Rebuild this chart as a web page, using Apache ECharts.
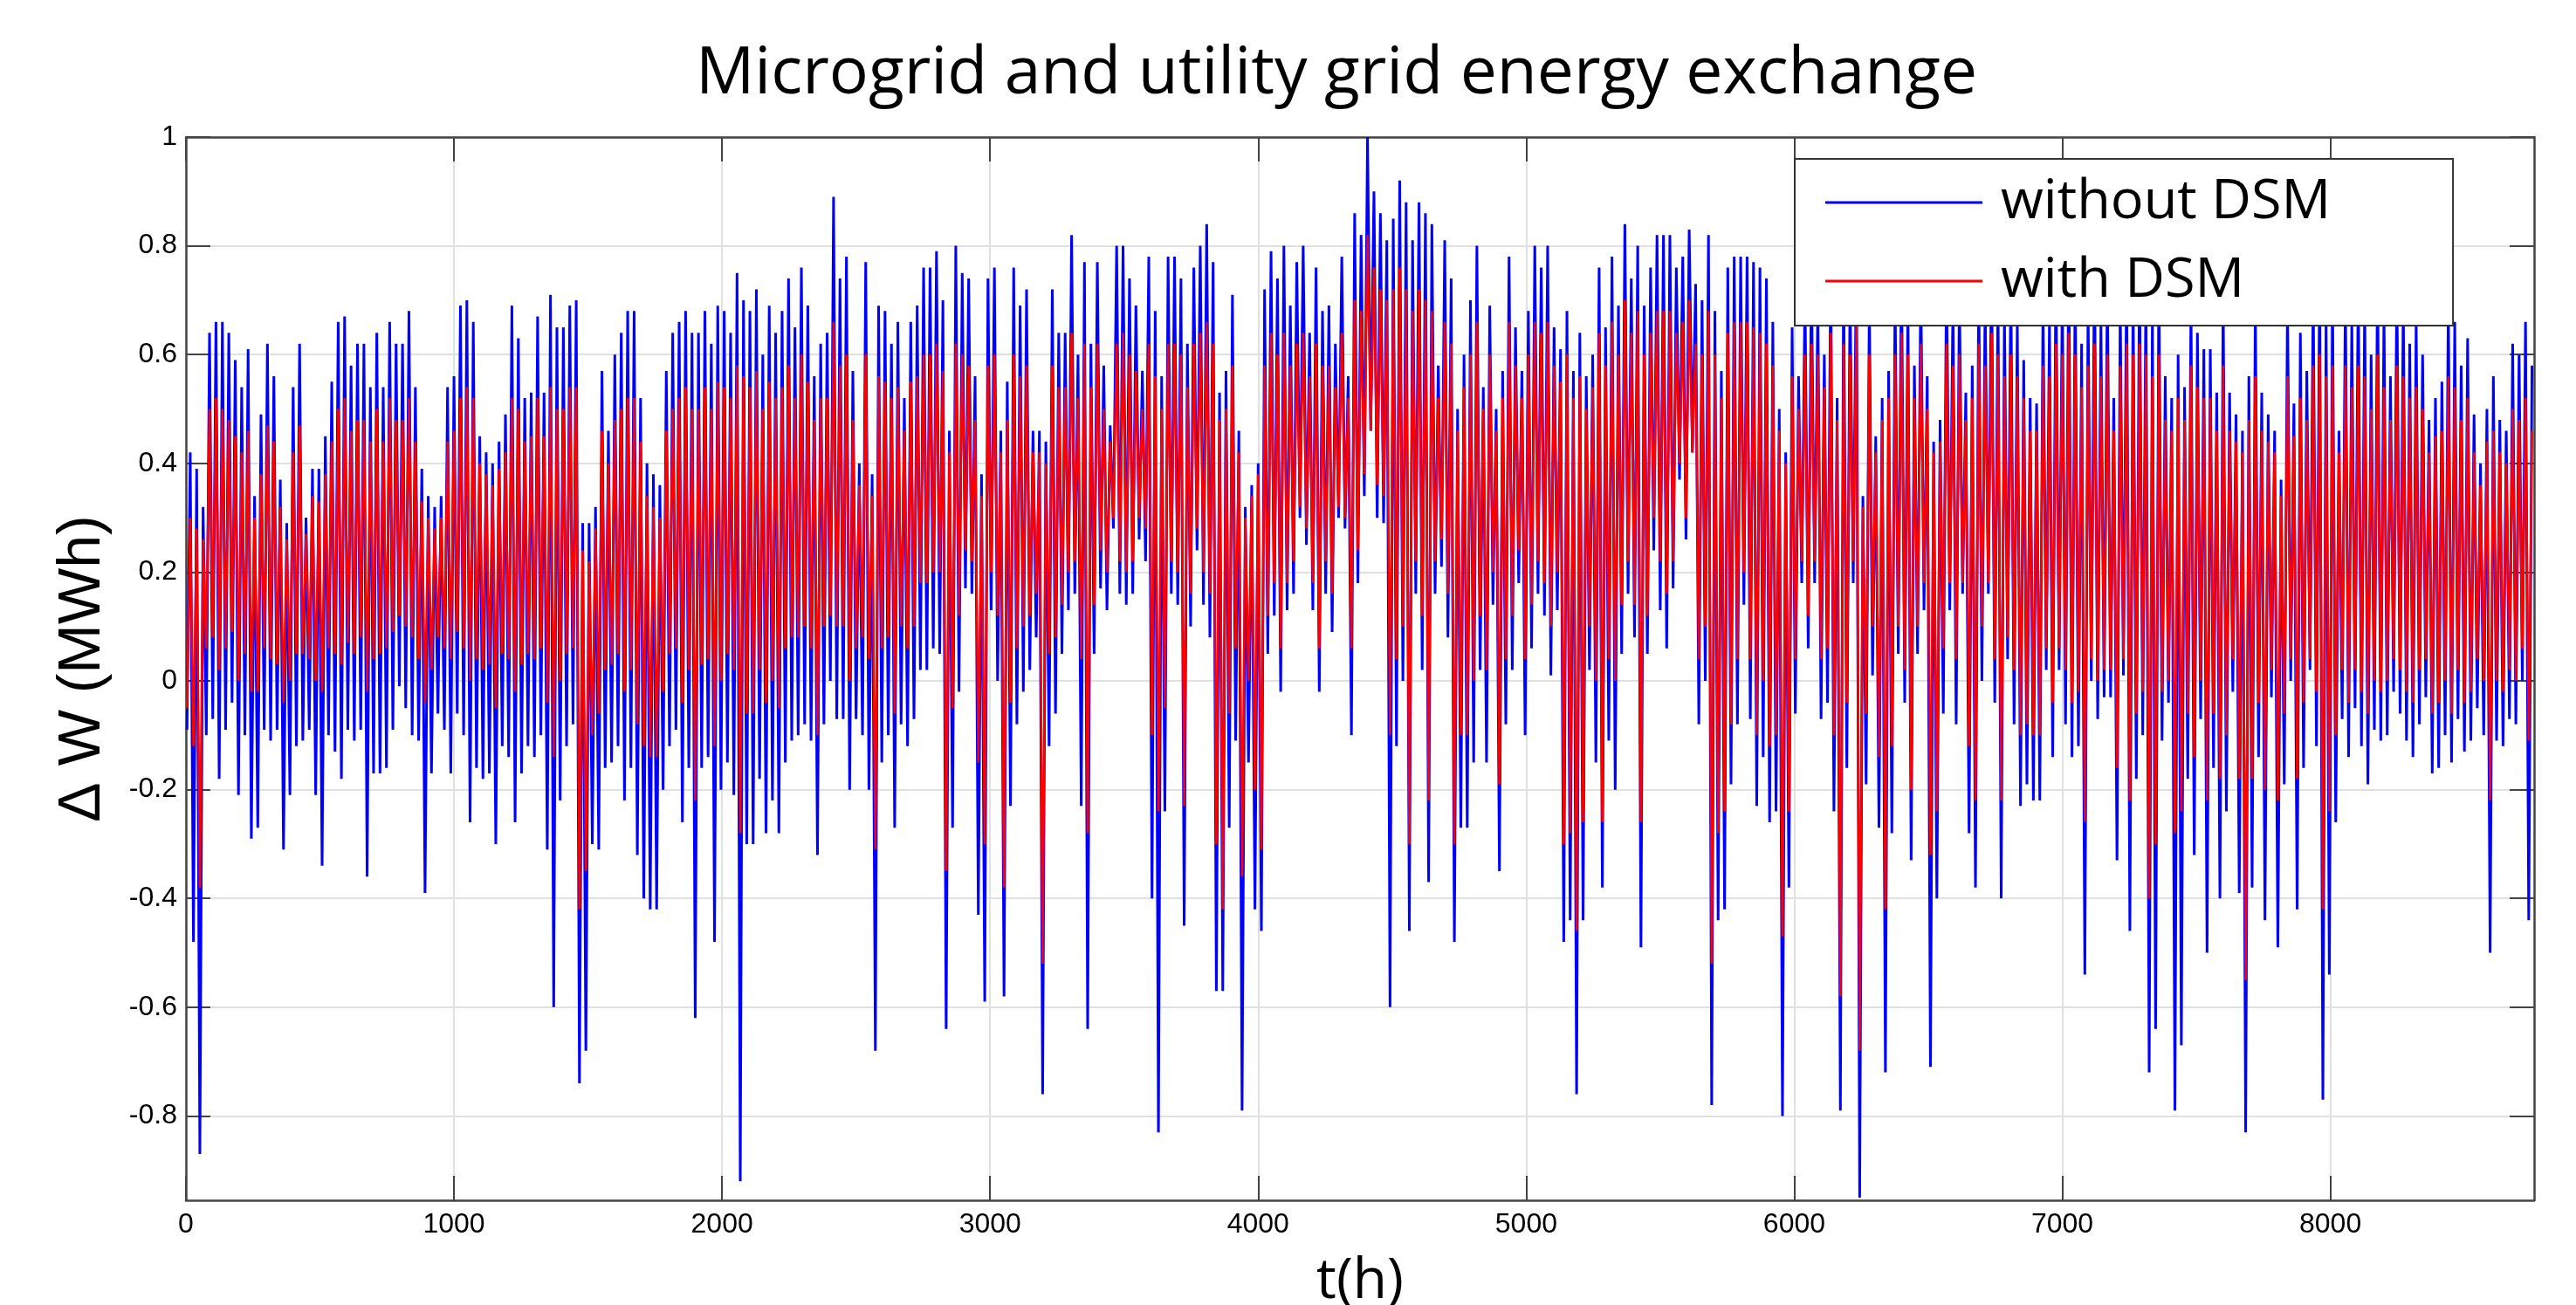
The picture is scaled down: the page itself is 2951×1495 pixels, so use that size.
<!DOCTYPE html>
<html>
<head>
<meta charset="utf-8">
<script src="https://cdn.jsdelivr.net/npm/echarts@6/dist/echarts.min.js"></script>
<style>
  html, body { margin: 0; padding: 0; background: #fff; }
  #app { width: 2951px; height: 1495px; }
</style>
</head>
<body>
<div id="app"></div>
<script>
// one value per day (365 days): daily peak and daily trough
const blueHigh = [
  0.42,0.39,0.32,0.64,0.66,0.66,0.64,0.59,0.54,0.61,
  0.34,0.49,0.62,0.56,0.37,0.29,0.54,0.62,0.30,0.39,
  0.39,0.45,0.55,0.66,0.67,0.58,0.62,0.62,0.54,0.64,
  0.54,0.66,0.62,0.62,0.68,0.54,0.39,0.34,0.32,0.34,
  0.54,0.56,0.69,0.70,0.66,0.45,0.42,0.40,0.44,0.49,
  0.69,0.63,0.52,0.53,0.67,0.53,0.71,0.65,0.65,0.69,
  0.70,0.29,0.29,0.32,0.57,0.46,0.60,0.64,0.68,0.68,
  0.52,0.40,0.38,0.36,0.57,0.64,0.66,0.68,0.64,0.64,
  0.68,0.62,0.69,0.68,0.64,0.75,0.70,0.68,0.72,0.60,
  0.69,0.64,0.68,0.74,0.65,0.76,0.69,0.56,0.62,0.64,
  0.89,0.74,0.78,0.57,0.40,0.77,0.38,0.69,0.68,0.62,
  0.66,0.52,0.66,0.69,0.76,0.76,0.79,0.70,0.46,0.80,
  0.75,0.74,0.56,0.38,0.74,0.76,0.46,0.55,0.76,0.69,
  0.72,0.46,0.46,0.44,0.72,0.64,0.64,0.82,0.60,0.77,
  0.62,0.77,0.58,0.47,0.80,0.80,0.74,0.69,0.57,0.78,
  0.68,0.56,0.78,0.78,0.74,0.62,0.76,0.80,0.84,0.77,
  0.53,0.57,0.71,0.46,0.32,0.36,0.40,0.72,0.79,0.74,
  0.80,0.69,0.77,0.80,0.64,0.76,0.68,0.69,0.62,0.78,
  0.56,0.86,0.82,1.00,0.90,0.86,0.81,0.85,0.92,0.88,
  0.81,0.88,0.86,0.84,0.58,0.81,0.74,0.50,0.60,0.70,
  0.80,0.54,0.69,0.50,0.57,0.78,0.65,0.57,0.68,0.80,
  0.76,0.80,0.65,0.61,0.68,0.57,0.64,0.56,0.60,0.76,
  0.65,0.78,0.69,0.84,0.74,0.80,0.69,0.76,0.82,0.82,
  0.82,0.76,0.78,0.83,0.73,0.70,0.82,0.68,0.57,0.76,
  0.78,0.78,0.78,0.77,0.76,0.74,0.66,0.50,0.42,0.65,
  0.56,0.72,0.75,0.70,0.60,0.78,0.52,0.76,0.72,0.80,
  0.34,0.70,0.45,0.52,0.57,0.72,0.78,0.70,0.58,0.74,
  0.56,0.44,0.48,0.76,0.70,0.72,0.53,0.58,0.74,0.70,
  0.78,0.72,0.68,0.74,0.66,0.59,0.52,0.51,0.70,0.66,
  0.76,0.72,0.80,0.74,0.62,0.70,0.78,0.66,0.74,0.52,
  0.70,0.76,0.72,0.78,0.74,0.68,0.76,0.56,0.52,0.60,
  0.54,0.70,0.64,0.61,0.61,0.53,0.72,0.53,0.49,0.46,
  0.56,0.70,0.53,0.49,0.46,0.37,0.70,0.51,0.64,0.57,
  0.72,0.76,0.68,0.72,0.46,0.72,0.66,0.74,0.70,0.60,
  0.76,0.68,0.56,0.74,0.70,0.62,0.66,0.60,0.48,0.52,
  0.55,0.70,0.66,0.58,0.63,0.49,0.40,0.50,0.56,0.48,
  0.46,0.62,0.60,0.66,0.58
];
const blueLow = [
  -0.09,-0.48,-0.87,-0.10,-0.07,-0.18,-0.09,-0.04,-0.21,-0.10,
  -0.29,-0.27,-0.09,-0.11,-0.09,-0.31,-0.21,-0.12,-0.11,-0.09,
  -0.21,-0.34,-0.10,-0.13,-0.18,-0.09,-0.11,-0.09,-0.36,-0.17,
  -0.17,-0.16,-0.09,-0.01,-0.05,-0.10,-0.11,-0.39,-0.17,-0.06,
  -0.09,-0.17,-0.06,-0.10,-0.26,-0.16,-0.18,-0.17,-0.30,-0.12,
  -0.14,-0.26,-0.17,-0.12,-0.14,-0.10,-0.31,-0.60,-0.22,-0.12,
  -0.08,-0.74,-0.68,-0.30,-0.31,-0.16,-0.15,-0.12,-0.22,-0.16,
  -0.32,-0.40,-0.42,-0.42,-0.20,-0.12,-0.09,-0.26,-0.16,-0.62,
  -0.16,-0.14,-0.48,-0.20,-0.15,-0.21,-0.92,-0.30,-0.30,-0.18,
  -0.28,-0.22,-0.28,-0.15,-0.11,-0.10,-0.08,-0.11,-0.32,-0.08,
  0.00,-0.07,-0.07,-0.20,-0.07,-0.10,-0.20,-0.68,-0.15,-0.10,
  -0.27,-0.08,-0.12,-0.07,0.02,0.02,0.06,0.05,-0.64,-0.27,
  -0.02,0.17,0.16,-0.43,-0.59,0.13,0.00,-0.58,-0.23,-0.08,
  -0.02,0.02,0.08,-0.76,-0.12,-0.06,0.05,0.13,0.16,-0.23,
  -0.64,0.05,0.17,0.13,0.28,0.16,0.14,0.16,0.26,0.22,
  -0.40,-0.83,-0.24,0.16,0.14,-0.45,0.10,0.24,0.14,0.08,
  -0.57,-0.57,-0.27,-0.11,-0.79,-0.15,-0.42,-0.46,0.05,0.12,
  -0.02,0.13,0.16,0.30,0.25,0.13,-0.02,0.16,0.09,0.30,
  0.28,-0.10,0.18,0.34,0.46,0.30,0.29,-0.60,-0.12,0.00,
  -0.46,0.16,0.02,-0.37,0.16,0.21,0.08,-0.48,-0.27,-0.27,
  -0.15,0.02,-0.15,0.14,-0.35,-0.08,0.02,0.18,-0.10,0.06,
  0.16,0.12,0.01,0.13,-0.48,-0.44,-0.76,-0.44,0.02,-0.15,
  -0.38,-0.11,-0.20,0.05,0.16,0.08,-0.49,0.05,0.24,0.13,
  0.06,0.17,0.37,0.26,0.42,-0.08,0.00,-0.78,-0.44,-0.42,
  -0.19,-0.08,0.14,-0.07,-0.23,-0.14,-0.26,-0.24,-0.80,-0.38,
  -0.06,0.18,0.06,0.18,-0.07,-0.04,-0.24,-0.79,-0.16,0.18,
  -0.95,-0.19,0.01,-0.27,-0.72,-0.28,0.05,-0.04,-0.33,0.05,
  0.13,-0.71,-0.40,-0.06,0.13,-0.08,0.16,-0.28,-0.38,0.00,
  0.16,-0.04,-0.40,0.04,-0.08,-0.23,-0.19,-0.22,-0.22,0.02,
  -0.14,0.02,-0.08,-0.14,-0.12,-0.54,0.00,-0.07,-0.03,-0.03,
  -0.33,0.01,-0.46,-0.18,-0.10,-0.72,-0.64,-0.11,-0.04,-0.79,
  -0.67,-0.18,-0.32,-0.07,-0.50,-0.16,-0.40,-0.24,-0.02,-0.39,
  -0.83,-0.38,-0.14,-0.44,-0.03,-0.49,-0.19,0.00,-0.42,-0.16,
  0.02,-0.12,-0.77,-0.54,-0.26,-0.07,-0.14,-0.05,-0.12,-0.19,
  -0.09,-0.11,-0.10,-0.02,-0.06,-0.11,-0.14,-0.08,-0.03,-0.17,
  -0.16,-0.10,-0.15,-0.07,-0.13,-0.11,-0.05,-0.10,-0.50,-0.11,
  -0.12,-0.07,-0.08,0.00,-0.44
];
const redHigh = [
  0.30,0.28,0.26,0.50,0.52,0.50,0.48,0.45,0.42,0.46,
  0.30,0.38,0.47,0.44,0.32,0.26,0.42,0.47,0.27,0.34,
  0.33,0.38,0.44,0.50,0.52,0.46,0.48,0.48,0.44,0.50,
  0.44,0.52,0.48,0.48,0.52,0.44,0.33,0.30,0.28,0.30,
  0.44,0.46,0.52,0.54,0.52,0.40,0.38,0.36,0.39,0.42,
  0.52,0.50,0.44,0.45,0.52,0.45,0.54,0.50,0.50,0.54,
  0.54,0.24,0.22,0.28,0.46,0.40,0.48,0.50,0.52,0.52,
  0.44,0.34,0.32,0.30,0.46,0.50,0.52,0.54,0.50,0.50,
  0.54,0.50,0.55,0.54,0.52,0.58,0.56,0.54,0.57,0.50,
  0.55,0.52,0.54,0.58,0.52,0.60,0.55,0.48,0.52,0.52,
  0.66,0.58,0.60,0.48,0.36,0.60,0.34,0.56,0.55,0.52,
  0.54,0.46,0.55,0.56,0.60,0.60,0.62,0.57,0.42,0.62,
  0.60,0.58,0.48,0.34,0.58,0.60,0.42,0.48,0.60,0.56,
  0.58,0.42,0.42,0.40,0.58,0.54,0.54,0.64,0.52,0.62,
  0.54,0.62,0.50,0.44,0.62,0.64,0.60,0.57,0.50,0.62,
  0.56,0.50,0.62,0.62,0.60,0.54,0.62,0.64,0.66,0.62,
  0.48,0.50,0.58,0.42,0.30,0.34,0.38,0.58,0.64,0.60,
  0.64,0.58,0.62,0.64,0.56,0.62,0.58,0.58,0.54,0.64,
  0.52,0.70,0.68,0.82,0.76,0.72,0.70,0.72,0.76,0.72,
  0.68,0.72,0.70,0.68,0.52,0.66,0.62,0.46,0.54,0.60,
  0.66,0.50,0.60,0.46,0.52,0.66,0.58,0.52,0.60,0.66,
  0.64,0.66,0.58,0.55,0.60,0.52,0.56,0.50,0.54,0.64,
  0.58,0.66,0.60,0.70,0.64,0.68,0.60,0.64,0.68,0.68,
  0.68,0.64,0.66,0.70,0.62,0.60,0.68,0.60,0.52,0.64,
  0.66,0.66,0.66,0.65,0.64,0.62,0.58,0.46,0.40,0.56,
  0.50,0.60,0.62,0.60,0.54,0.64,0.48,0.62,0.60,0.66,
  0.32,0.60,0.42,0.48,0.52,0.60,0.64,0.60,0.52,0.62,
  0.50,0.42,0.44,0.62,0.58,0.60,0.48,0.52,0.62,0.58,
  0.64,0.60,0.56,0.60,0.56,0.52,0.46,0.46,0.58,0.56,
  0.62,0.60,0.64,0.60,0.54,0.58,0.62,0.56,0.60,0.46,
  0.58,0.62,0.60,0.62,0.60,0.56,0.60,0.48,0.46,0.52,
  0.48,0.58,0.54,0.52,0.52,0.46,0.58,0.46,0.44,0.42,
  0.48,0.56,0.46,0.44,0.42,0.34,0.56,0.45,0.52,0.48,
  0.58,0.60,0.56,0.58,0.42,0.58,0.54,0.58,0.56,0.50,
  0.60,0.54,0.48,0.58,0.56,0.52,0.54,0.50,0.42,0.45,
  0.46,0.56,0.54,0.48,0.52,0.42,0.36,0.44,0.46,0.42,
  0.40,0.50,0.48,0.52,0.46
];
const redLow = [
  -0.05,-0.12,-0.38,0.06,0.08,0.02,0.06,0.09,0.00,0.05,
  -0.02,-0.02,0.06,0.04,0.03,-0.04,0.00,0.05,0.05,0.04,
  0.00,-0.02,0.06,0.05,0.03,0.07,0.05,0.08,-0.02,0.04,
  0.05,0.06,0.09,0.12,0.10,0.08,0.04,-0.04,0.02,0.08,
  0.06,0.04,0.09,0.06,0.00,0.04,0.02,0.03,-0.05,0.05,
  0.04,-0.02,0.03,0.05,0.04,0.06,-0.04,-0.14,0.00,0.05,
  0.06,-0.42,-0.35,-0.10,-0.06,0.02,0.03,0.05,-0.02,0.02,
  -0.08,-0.12,-0.14,-0.14,-0.02,0.05,0.06,-0.04,0.02,-0.22,
  0.03,0.04,-0.12,0.00,0.05,0.02,-0.28,-0.06,-0.06,0.02,
  -0.04,0.00,-0.05,0.06,0.08,0.08,0.10,0.06,-0.10,0.10,
  0.12,0.10,0.10,0.00,0.06,0.08,0.04,-0.31,0.06,0.08,
  -0.06,0.10,0.06,0.10,0.18,0.18,0.20,0.20,-0.35,-0.05,
  0.12,0.24,0.22,-0.15,-0.30,0.20,0.12,-0.38,-0.04,0.06,
  0.10,0.12,0.16,-0.52,0.05,0.08,0.14,0.20,0.22,0.04,
  -0.28,0.14,0.24,0.20,0.30,0.22,0.20,0.22,0.30,0.28,
  -0.10,-0.24,-0.05,0.22,0.20,-0.23,0.16,0.28,0.20,0.16,
  -0.30,-0.42,-0.06,0.06,-0.36,0.00,-0.20,-0.31,0.12,0.18,
  0.06,0.18,0.22,0.32,0.28,0.18,0.06,0.22,0.16,0.32,
  0.30,0.06,0.24,0.38,0.46,0.36,0.34,-0.10,0.04,0.10,
  -0.30,0.22,0.12,-0.22,0.22,0.26,0.16,-0.30,-0.10,-0.10,
  0.00,0.12,0.02,0.20,-0.19,0.04,0.12,0.24,0.04,0.14,
  0.22,0.18,0.10,0.20,-0.30,-0.28,-0.46,-0.26,0.10,0.00,
  -0.26,0.04,0.00,0.14,0.22,0.14,-0.26,0.12,0.30,0.22,
  0.16,0.22,0.40,0.30,0.42,0.04,0.10,-0.52,-0.28,-0.24,
  -0.08,0.04,0.20,0.04,-0.10,0.00,-0.12,-0.10,-0.47,-0.24,
  0.04,0.22,0.12,0.22,0.04,0.06,-0.10,-0.58,-0.04,0.22,
  -0.68,-0.06,0.10,-0.14,-0.42,-0.12,0.10,0.02,-0.20,0.10,
  0.18,-0.32,-0.24,0.06,0.18,0.04,0.18,-0.12,-0.22,0.10,
  0.18,0.04,-0.22,0.08,0.02,-0.10,-0.08,-0.10,-0.10,0.06,
  -0.04,0.06,0.02,-0.04,-0.02,-0.26,0.04,0.00,0.02,0.02,
  -0.16,0.04,-0.22,-0.06,-0.02,-0.40,-0.30,-0.02,0.00,-0.28,
  -0.24,-0.06,-0.14,0.00,-0.22,-0.06,-0.18,-0.10,0.04,-0.18,
  -0.55,-0.18,-0.04,-0.20,0.02,-0.22,-0.06,0.04,-0.18,-0.04,
  0.04,-0.02,-0.42,-0.24,-0.10,0.02,-0.04,0.02,-0.02,-0.06,
  0.00,-0.02,0.00,0.04,0.02,-0.02,-0.04,0.02,0.04,-0.06,
  -0.04,0.00,-0.06,0.02,-0.04,-0.02,0.04,0.00,-0.22,0.00,
  -0.02,0.02,0.00,0.06,-0.11
];
const xTicks = [0, 1000, 2000, 3000, 4000, 5000, 6000, 7000, 8000];
const yTicks = [-0.8, -0.6, -0.4, -0.2, 0, 0.2, 0.4, 0.6, 0.8, 1];

// each day: trough then peak
function dayPoints(lows, highs) {
  const pts = [];
  for (let d = 0; d < lows.length; d++) {
    pts.push([d * 24 + 4, lows[d]]);
    pts.push([d * 24 + 16, highs[d]]);
  }
  return pts;
}

const axisColor = '#444';
const tickFont = { fontFamily: 'Liberation Sans', fontSize: 32, color: '#000' };
const tickLine = { color: axisColor, width: 2 };

const chart = echarts.init(document.getElementById('app'));
chart.setOption({
  animation: false,
  backgroundColor: '#fff',
  graphic: [{
    type: 'text',
    x: 1531,
    y: 86,
    style: {
      text: 'Microgrid and utility grid energy exchange',
      font: '75px "Open Sans"',
      fill: '#000',
      textAlign: 'center',
      textVerticalAlign: 'middle'
    }
  }],
  grid: { left: 213, right: 48, top: 157, bottom: 120, outerBoundsMode: 'none' },
  legend: {
    left: 2056,
    top: 182,
    orient: 'vertical',
    icon: 'rect',
    itemWidth: 180,
    itemHeight: 3,
    itemGap: 20,
    padding: [15, 140, 16, 35],
    backgroundColor: '#fff',
    borderColor: '#333',
    borderWidth: 2,
    textStyle: { fontFamily: 'Open Sans', fontSize: 63, lineHeight: 70, color: '#000', padding: [0, 0, 0, 16] },
    data: ['without DSM', 'with DSM']
  },
  xAxis: [{
    type: 'value',
    min: 0,
    max: 8760,
    name: 't(h)',
    nameLocation: 'middle',
    nameGap: 62,
    nameTextStyle: { fontFamily: 'Open Sans', fontSize: 64, color: '#000' },
    axisLine: { onZero: false, lineStyle: { color: axisColor, width: 2.5 } },
    axisTick: { inside: true, length: 28, customValues: xTicks, lineStyle: tickLine },
    axisLabel: Object.assign({ customValues: xTicks, margin: 12, formatter: v => String(v) }, tickFont),
    splitLine: { show: true, lineStyle: { color: '#e0e0e0', width: 2 } }
  }, {
    type: 'value',
    position: 'top',
    min: 0,
    max: 8760,
    axisLine: { onZero: false, lineStyle: { color: axisColor, width: 2.5 } },
    axisTick: { inside: true, length: 28, customValues: xTicks, lineStyle: tickLine },
    axisLabel: { show: false },
    splitLine: { show: false }
  }],
  yAxis: [{
    type: 'value',
    min: -0.955,
    max: 1,
    name: '\u0394 W (MWh)',
    nameLocation: 'middle',
    nameGap: 84,
    nameTextStyle: { fontFamily: 'Liberation Sans', fontSize: 68, color: '#000' },
    axisLine: { show: true, onZero: false, lineStyle: { color: axisColor, width: 2.5 } },
    axisTick: { show: true, inside: true, length: 28, customValues: yTicks, lineStyle: tickLine },
    axisLabel: Object.assign({
      customValues: yTicks,
      margin: 10,
      formatter: v => String(Math.round(v * 10) / 10)
    }, tickFont),
    splitLine: { show: true, lineStyle: { color: '#e0e0e0', width: 2 } }
  }, {
    type: 'value',
    position: 'right',
    min: -0.955,
    max: 1,
    axisLine: { show: true, onZero: false, lineStyle: { color: axisColor, width: 2.5 } },
    axisTick: { show: true, inside: true, length: 28, customValues: yTicks, lineStyle: tickLine },
    axisLabel: { show: false },
    splitLine: { show: false }
  }],
  series: [{
    name: 'without DSM',
    type: 'line',
    xAxisIndex: 0,
    yAxisIndex: 0,
    data: dayPoints(blueLow, blueHigh),
    showSymbol: false,
    symbol: 'none',
    color: '#0000ff',
    lineStyle: { color: '#0000ff', width: 3 },
    z: 2
  }, {
    name: 'with DSM',
    type: 'line',
    xAxisIndex: 0,
    yAxisIndex: 0,
    data: dayPoints(redLow, redHigh),
    showSymbol: false,
    symbol: 'none',
    color: '#ff0000',
    lineStyle: { color: '#ff0000', width: 2.6 },
    z: 3
  }]
});
</script>
</body>
</html>
